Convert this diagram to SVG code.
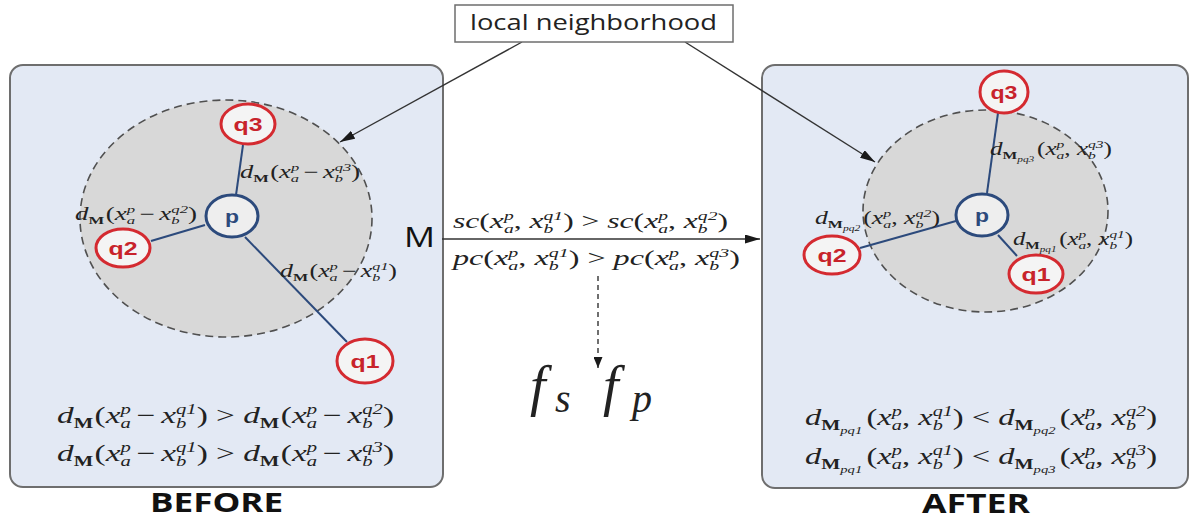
<svg xmlns="http://www.w3.org/2000/svg" width="1192" height="524" viewBox="0 0 1192 524">
<defs>
<marker id="ah" viewBox="0 0 10 10" refX="10" refY="5" markerWidth="15" markerHeight="9" preserveAspectRatio="none" orient="auto" markerUnits="userSpaceOnUse"><path d="M0,0 L10,5 L0,10 z" fill="#1a1a1a"/></marker>
<marker id="ahs" viewBox="0 0 10 10" refX="10" refY="5" markerWidth="11" markerHeight="9" preserveAspectRatio="none" orient="auto" markerUnits="userSpaceOnUse"><path d="M0,0 L10,5 L0,10 z" fill="#1a1a1a"/></marker>
<style>
.panel{fill:#e3e9f4;stroke:#6e6e6e;stroke-width:2}
.hood{fill:#d8d8d8;stroke:#505050;stroke-width:1.6;stroke-dasharray:8 5}
.q{fill:#f4f4f4;stroke:#d42a30;stroke-width:3}
.p{fill:#eeeeee;stroke:#2c4a7c;stroke-width:3}
.qt{font-family:"Liberation Sans",Arial,sans-serif;font-weight:bold;font-size:19px;fill:#c8232b;text-anchor:middle}
.pt{font-family:"Liberation Sans",Arial,sans-serif;font-weight:bold;font-size:19px;fill:#2c4a7c;text-anchor:middle}
.edge{stroke:#2c4a7c;stroke-width:2;fill:none}
.conn{stroke:#333;stroke-width:1.4;fill:none}
.eq{font-family:"Liberation Serif","Times New Roman",serif;font-style:italic;fill:#222}
.u{font-style:normal}
.s{font-size:0.62em}
.sb{font-size:0.62em;font-weight:bold;font-style:normal}
.ss{font-size:0.45em}
.cap{font-family:"Open Sans","Liberation Sans",sans-serif;font-weight:bold;font-size:26px;fill:#111}
</style>
</defs>

<g id="panel-before"><rect class="panel" x="10" y="65" width="433" height="422" rx="13"/></g>
<g id="panel-after"><rect class="panel" x="762" y="65" width="426" height="423" rx="13"/></g>

<g id="hood-before"><ellipse class="hood" cx="226" cy="218.5" rx="146" ry="118.5"/></g>
<g id="hood-after"><ellipse class="hood" cx="985.5" cy="211" rx="122.5" ry="101"/></g>

<g id="connectors">
<line class="edge" x1="236" y1="195" x2="243" y2="145"/>
<line class="edge" x1="205" y1="225" x2="151" y2="241"/>
<line class="edge" x1="245" y1="237" x2="347" y2="342"/>
<line class="edge" x1="987" y1="193" x2="998" y2="113"/>
<line class="edge" x1="956" y1="221" x2="860" y2="248"/>
<line class="edge" x1="998" y1="235" x2="1017" y2="256"/>
<line class="conn" x1="522" y1="42" x2="340" y2="142" marker-end="url(#ah)"/>
<line class="conn" x1="685" y1="42" x2="875" y2="162" marker-end="url(#ah)"/>
<line class="conn" x1="442" y1="239" x2="760" y2="239" marker-end="url(#ah)"/>
<line class="conn" x1="598" y1="276" x2="598" y2="368" stroke-dasharray="5 4" marker-end="url(#ahs)"/>
</g>

<g id="node-local-neighborhood">
<rect x="455" y="5" width="278" height="37" fill="#ffffff" stroke="#6e6e6e" stroke-width="1.5"/>
<text x="470" y="30" font-family="'Open Sans','Liberation Sans',sans-serif" font-size="22" fill="#222" textLength="247" lengthAdjust="spacingAndGlyphs">local neighborhood</text>
</g>

<g id="before-q3"><ellipse class="q" cx="248" cy="124" rx="27" ry="20"/><text class="qt" x="248" y="131" textLength="29" lengthAdjust="spacingAndGlyphs">q3</text></g>
<g id="before-p"><ellipse class="p" cx="232" cy="216" rx="26" ry="21"/><text class="pt" x="232" y="223" textLength="14" lengthAdjust="spacingAndGlyphs">p</text></g>
<g id="before-q2"><ellipse class="q" cx="123" cy="248" rx="27" ry="19"/><text class="qt" x="123" y="255" textLength="29" lengthAdjust="spacingAndGlyphs">q2</text></g>
<g id="before-q1"><ellipse class="q" cx="365" cy="361" rx="28" ry="22"/><text class="qt" x="365" y="368" textLength="29" lengthAdjust="spacingAndGlyphs">q1</text></g>

<g id="after-q3"><ellipse class="q" cx="1004" cy="92" rx="24" ry="21"/><text class="qt" x="1004" y="99" textLength="27" lengthAdjust="spacingAndGlyphs">q3</text></g>
<g id="after-p"><ellipse class="p" cx="982" cy="215" rx="26" ry="21"/><text class="pt" x="982" y="222" textLength="14" lengthAdjust="spacingAndGlyphs">p</text></g>
<g id="after-q2"><ellipse class="q" cx="832" cy="255" rx="28" ry="19"/><text class="qt" x="832" y="262" textLength="29" lengthAdjust="spacingAndGlyphs">q2</text></g>
<g id="after-q1"><ellipse class="q" cx="1036" cy="274" rx="27" ry="19"/><text class="qt" x="1036" y="281" textLength="29" lengthAdjust="spacingAndGlyphs">q1</text></g>

<g id="labels-before">
<text class="eq" font-size="18" x="240" y="178" textLength="120" lengthAdjust="spacingAndGlyphs">d<tspan class="sb" dy="4">M</tspan><tspan class="u" dx="1" dy="-4">(</tspan>x<tspan class="s" dy="-7">p</tspan><tspan class="s" dx="-5.6" dy="11">a</tspan><tspan class="u" dx="3" dy="-4">−</tspan><tspan dx="3">x</tspan><tspan class="s" dy="-7">q3</tspan><tspan class="s" dx="-11.2" dy="11">b</tspan><tspan class="u" dx="5.6" dy="-4">)</tspan></text>
<text class="eq" font-size="18" x="75" y="220" textLength="122" lengthAdjust="spacingAndGlyphs">d<tspan class="sb" dy="4">M</tspan><tspan class="u" dx="1" dy="-4">(</tspan>x<tspan class="s" dy="-7">p</tspan><tspan class="s" dx="-5.6" dy="11">a</tspan><tspan class="u" dx="3" dy="-4">−</tspan><tspan dx="3">x</tspan><tspan class="s" dy="-7">q2</tspan><tspan class="s" dx="-11.2" dy="11">b</tspan><tspan class="u" dx="5.6" dy="-4">)</tspan></text>
<text class="eq" font-size="18" x="280" y="277" textLength="117" lengthAdjust="spacingAndGlyphs">d<tspan class="sb" dy="4">M</tspan><tspan class="u" dx="1" dy="-4">(</tspan>x<tspan class="s" dy="-7">p</tspan><tspan class="s" dx="-5.6" dy="11">a</tspan><tspan class="u" dx="3" dy="-4">−</tspan><tspan dx="3">x</tspan><tspan class="s" dy="-7">q1</tspan><tspan class="s" dx="-11.2" dy="11">b</tspan><tspan class="u" dx="5.6" dy="-4">)</tspan></text>
<text class="eq" font-size="23" x="57" y="423" textLength="337" lengthAdjust="spacingAndGlyphs">d<tspan class="sb" dy="5">M</tspan><tspan class="u" dx="1" dy="-5">(</tspan>x<tspan class="s" dy="-9">p</tspan><tspan class="s" dx="-7.1" dy="14">a</tspan><tspan class="u" dx="4" dy="-5">−</tspan><tspan dx="4">x</tspan><tspan class="s" dy="-9">q1</tspan><tspan class="s" dx="-14.2" dy="14">b</tspan><tspan class="u" dx="7.1" dy="-5">) &gt; </tspan>d<tspan class="sb" dy="5">M</tspan><tspan class="u" dx="1" dy="-5">(</tspan>x<tspan class="s" dy="-9">p</tspan><tspan class="s" dx="-7.1" dy="14">a</tspan><tspan class="u" dx="4" dy="-5">−</tspan><tspan dx="4">x</tspan><tspan class="s" dy="-9">q2</tspan><tspan class="s" dx="-14.2" dy="14">b</tspan><tspan class="u" dx="7.1" dy="-5">)</tspan></text>
<text class="eq" font-size="23" x="57" y="461" textLength="337" lengthAdjust="spacingAndGlyphs">d<tspan class="sb" dy="5">M</tspan><tspan class="u" dx="1" dy="-5">(</tspan>x<tspan class="s" dy="-9">p</tspan><tspan class="s" dx="-7.1" dy="14">a</tspan><tspan class="u" dx="4" dy="-5">−</tspan><tspan dx="4">x</tspan><tspan class="s" dy="-9">q1</tspan><tspan class="s" dx="-14.2" dy="14">b</tspan><tspan class="u" dx="7.1" dy="-5">) &gt; </tspan>d<tspan class="sb" dy="5">M</tspan><tspan class="u" dx="1" dy="-5">(</tspan>x<tspan class="s" dy="-9">p</tspan><tspan class="s" dx="-7.1" dy="14">a</tspan><tspan class="u" dx="4" dy="-5">−</tspan><tspan dx="4">x</tspan><tspan class="s" dy="-9">q3</tspan><tspan class="s" dx="-14.2" dy="14">b</tspan><tspan class="u" dx="7.1" dy="-5">)</tspan></text>
<text class="cap" x="150" y="512" textLength="133" lengthAdjust="spacingAndGlyphs">BEFORE</text>
</g>

<g id="labels-middle">
<text x="404" y="247" font-family="'Open Sans','Liberation Sans',sans-serif" font-size="27" fill="#111" textLength="31" lengthAdjust="spacingAndGlyphs">M</text>
<text class="eq" font-size="21" x="453" y="228" textLength="275" lengthAdjust="spacingAndGlyphs">sc<tspan class="u">(</tspan>x<tspan class="s" dy="-8">p</tspan><tspan class="s" dx="-6.5" dy="13">a</tspan><tspan class="u" dy="-5">, </tspan>x<tspan class="s" dy="-8">q1</tspan><tspan class="s" dx="-13" dy="13">b</tspan><tspan class="u" dx="6.5" dy="-5">) &gt; </tspan>sc<tspan class="u">(</tspan>x<tspan class="s" dy="-8">p</tspan><tspan class="s" dx="-6.5" dy="13">a</tspan><tspan class="u" dy="-5">, </tspan>x<tspan class="s" dy="-8">q2</tspan><tspan class="s" dx="-13" dy="13">b</tspan><tspan class="u" dx="6.5" dy="-5">)</tspan></text>
<text class="eq" font-size="21" x="453" y="265" textLength="287" lengthAdjust="spacingAndGlyphs">pc<tspan class="u">(</tspan>x<tspan class="s" dy="-8">p</tspan><tspan class="s" dx="-6.5" dy="13">a</tspan><tspan class="u" dy="-5">, </tspan>x<tspan class="s" dy="-8">q1</tspan><tspan class="s" dx="-13" dy="13">b</tspan><tspan class="u" dx="6.5" dy="-5">) &gt; </tspan>pc<tspan class="u">(</tspan>x<tspan class="s" dy="-8">p</tspan><tspan class="s" dx="-6.5" dy="13">a</tspan><tspan class="u" dy="-5">, </tspan>x<tspan class="s" dy="-8">q3</tspan><tspan class="s" dx="-13" dy="13">b</tspan><tspan class="u" dx="6.5" dy="-5">)</tspan></text>
<text class="eq" font-size="56" x="530" y="405">f<tspan font-size="40" x="555" dy="7">s</tspan><tspan x="603" dy="-7">f</tspan><tspan font-size="40" x="632" dy="7">p</tspan></text>
</g>

<g id="labels-after">
<text class="eq" font-size="18" x="990" y="155" textLength="122" lengthAdjust="spacingAndGlyphs">d<tspan class="sb" dy="4">M</tspan><tspan class="ss" dy="3">pq3</tspan><tspan class="u" dx="2" dy="-7">(</tspan>x<tspan class="s" dy="-7">p</tspan><tspan class="s" dx="-5.6" dy="11">a</tspan><tspan class="u" dy="-4">, </tspan>x<tspan class="s" dy="-7">q3</tspan><tspan class="s" dx="-11.2" dy="11">b</tspan><tspan class="u" dx="5.6" dy="-4">)</tspan></text>
<text class="eq" font-size="18" x="815" y="224" textLength="125" lengthAdjust="spacingAndGlyphs">d<tspan class="sb" dy="4">M</tspan><tspan class="ss" dy="3">pq2</tspan><tspan class="u" dx="2" dy="-7">(</tspan>x<tspan class="s" dy="-7">p</tspan><tspan class="s" dx="-5.6" dy="11">a</tspan><tspan class="u" dy="-4">, </tspan>x<tspan class="s" dy="-7">q2</tspan><tspan class="s" dx="-11.2" dy="11">b</tspan><tspan class="u" dx="5.6" dy="-4">)</tspan></text>
<text class="eq" font-size="18" x="1013" y="245" textLength="120" lengthAdjust="spacingAndGlyphs">d<tspan class="sb" dy="4">M</tspan><tspan class="ss" dy="3">pq1</tspan><tspan class="u" dx="2" dy="-7">(</tspan>x<tspan class="s" dy="-7">p</tspan><tspan class="s" dx="-5.6" dy="11">a</tspan><tspan class="u" dy="-4">, </tspan>x<tspan class="s" dy="-7">q1</tspan><tspan class="s" dx="-11.2" dy="11">b</tspan><tspan class="u" dx="5.6" dy="-4">)</tspan></text>
<text class="eq" font-size="23" x="805" y="425" textLength="352" lengthAdjust="spacingAndGlyphs">d<tspan class="sb" dy="5">M</tspan><tspan class="ss" dy="4">pq1</tspan><tspan class="u" dx="3" dy="-9">(</tspan>x<tspan class="s" dy="-9">p</tspan><tspan class="s" dx="-7.1" dy="14">a</tspan><tspan class="u" dy="-5">, </tspan>x<tspan class="s" dy="-9">q1</tspan><tspan class="s" dx="-14.2" dy="14">b</tspan><tspan class="u" dx="7.1" dy="-5">) &lt; </tspan>d<tspan class="sb" dy="5">M</tspan><tspan class="ss" dy="4">pq2</tspan><tspan class="u" dx="3" dy="-9">(</tspan>x<tspan class="s" dy="-9">p</tspan><tspan class="s" dx="-7.1" dy="14">a</tspan><tspan class="u" dy="-5">, </tspan>x<tspan class="s" dy="-9">q2</tspan><tspan class="s" dx="-14.2" dy="14">b</tspan><tspan class="u" dx="7.1" dy="-5">)</tspan></text>
<text class="eq" font-size="23" x="805" y="464" textLength="352" lengthAdjust="spacingAndGlyphs">d<tspan class="sb" dy="5">M</tspan><tspan class="ss" dy="4">pq1</tspan><tspan class="u" dx="3" dy="-9">(</tspan>x<tspan class="s" dy="-9">p</tspan><tspan class="s" dx="-7.1" dy="14">a</tspan><tspan class="u" dy="-5">, </tspan>x<tspan class="s" dy="-9">q1</tspan><tspan class="s" dx="-14.2" dy="14">b</tspan><tspan class="u" dx="7.1" dy="-5">) &lt; </tspan>d<tspan class="sb" dy="5">M</tspan><tspan class="ss" dy="4">pq3</tspan><tspan class="u" dx="3" dy="-9">(</tspan>x<tspan class="s" dy="-9">p</tspan><tspan class="s" dx="-7.1" dy="14">a</tspan><tspan class="u" dy="-5">, </tspan>x<tspan class="s" dy="-9">q3</tspan><tspan class="s" dx="-14.2" dy="14">b</tspan><tspan class="u" dx="7.1" dy="-5">)</tspan></text>
<text class="cap" x="922" y="513" textLength="108" lengthAdjust="spacingAndGlyphs">AFTER</text>
</g>
</svg>
